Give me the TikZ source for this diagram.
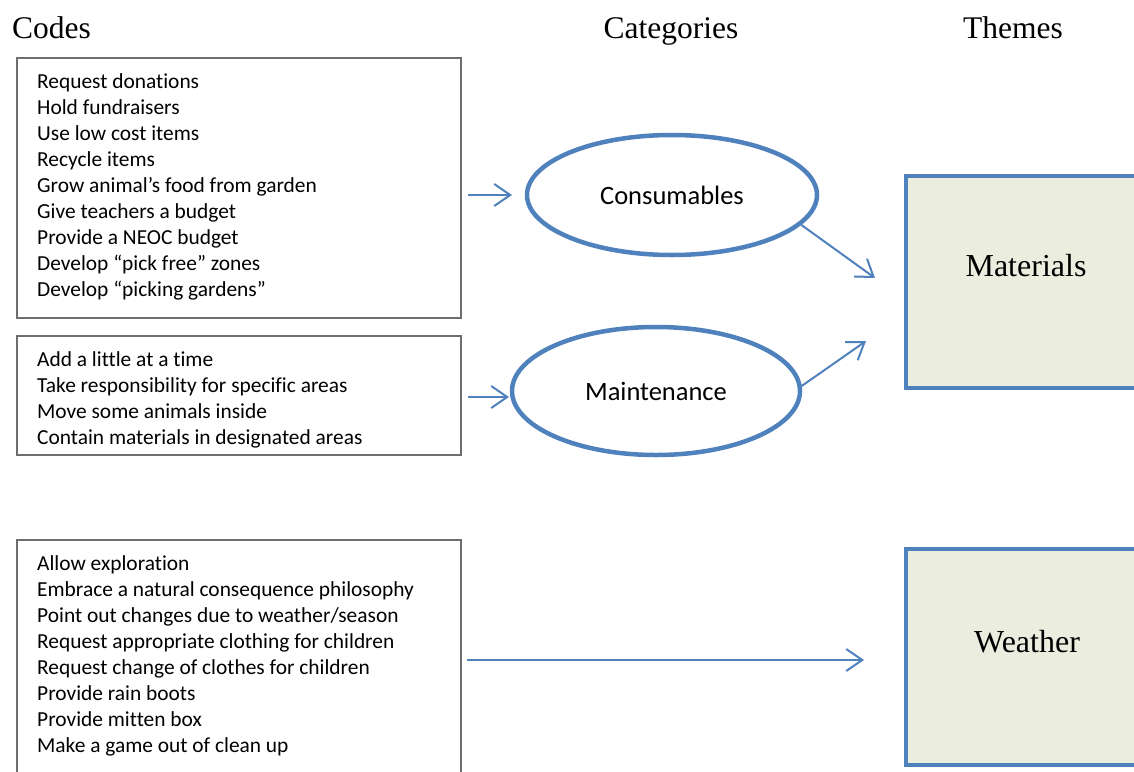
\documentclass[tikz,border=0pt]{standalone}
\usepackage{fontspec}
\setmainfont{Liberation Serif}
\newfontfamily\calfont[Ligatures=NoCommon]{Carlito}
\usetikzlibrary{arrows.meta,shapes.geometric}
\definecolor{accblue}{HTML}{4F81BD}
\definecolor{themefill}{HTML}{EBEEDF}
\definecolor{boxgray}{HTML}{6E6E6E}
\tikzset{
  codebox/.style={draw=boxgray,line width=1.3pt,rectangle,inner sep=0pt},
  codeline/.style={anchor=base west,inner sep=0pt,font=\calfont\fontsize{21.4}{26}\selectfont},
  cat/.style={ellipse,draw=accblue,line width=4.5pt,inner sep=0pt},
  cattext/.style={inner sep=0pt,font=\calfont\fontsize{26.5}{30}\selectfont},
  theme/.style={draw=accblue,fill=themefill,line width=4.5pt,rectangle,inner sep=0pt},
  themetext/.style={inner sep=0pt,font=\fontsize{32}{36}\selectfont},
  head/.style={inner sep=0pt,anchor=base,font=\fontsize{31.5}{35}\selectfont},
  flow/.style={draw=accblue,line width=2pt,-{Straight Barb[length=16pt,width=22pt,line width=2pt]}}
}
\begin{document}
\begin{tikzpicture}[x=1pt,y=-1pt]
\useasboundingbox (0,0) rectangle (1134,771);
\clip (0,0) rectangle (1134,771);
% headers
\node[head,anchor=base west] (hcodes) at (12,38.5) {Codes};
\node[head] (hcat) at (671,38.5) {Categories};
\node[head] (hthemes) at (1013,38.5) {Themes};
% code boxes
\node[codebox,minimum width=444pt,minimum height=260pt] (box1) at (239,188) {};
\node[codebox,minimum width=444pt,minimum height=119pt] (box2) at (239,395.5) {};
\node[codebox,minimum width=444pt,minimum height=250pt] (box3) at (239,665) {};
\foreach \t [count=\i] in {Request donations,Hold fundraisers,Use low cost items,Recycle items,Grow animal’s food from garden,Give teachers a budget,Provide a NEOC budget,Develop “pick free” zones,Develop “picking gardens”}
  \node[codeline] (a\i) at (37,{88+26*(\i-1)}) {\t};
\foreach \t [count=\i] in {Add a little at a time,Take responsibility for specific areas,Move some animals inside,Contain materials in designated areas}
  \node[codeline] (b\i) at (37,{366+26*(\i-1)}) {\t};
\foreach \t [count=\i] in {Allow exploration,Embrace a natural consequence philosophy,Point out changes due to weather/season,Request appropriate clothing for children,Request change of clothes for children,Provide rain boots,Provide mitten box,Make a game out of clean up}
  \node[codeline] (c\i) at (37,{570+26*(\i-1)}) {\t};
% categories
\node[cat,minimum width=290pt,minimum height=120pt] (cons) at (672,195) {};
\node[cattext] (constext) at (672,195) {Consumables};
\node[cat,minimum width=288pt,minimum height=128pt] (maint) at (656,391) {};
\node[cattext] (mainttext) at (656,391) {Maintenance};
% themes
\node[theme,minimum width=250pt,minimum height=212pt] (mat) at (1031,282) {};
\node[themetext] (mattext) at (1026,266) {Materials};
\node[theme,minimum width=250pt,minimum height=216pt] (wea) at (1031,657) {};
\node[themetext] (weatext) at (1027,642) {Weather};
% connector end points
\coordinate (p1) at (468,195);
\coordinate (q1) at (512,195);
\coordinate (p2) at (468,397);
\coordinate (q2) at (509,397);
\coordinate (m1) at (875,278);
\coordinate (m2) at (866,341);
\coordinate (p3) at (467,660);
\coordinate (q3) at (864,660);
% connectors
\draw[flow] (p1) -- (q1);
\draw[flow] (p2) -- (q2);
\draw[flow] (cons.-13) -- (m1);
\draw[flow] (maint.2) -- (m2);
\draw[flow] (p3) -- (q3);
\end{tikzpicture}
\end{document}
